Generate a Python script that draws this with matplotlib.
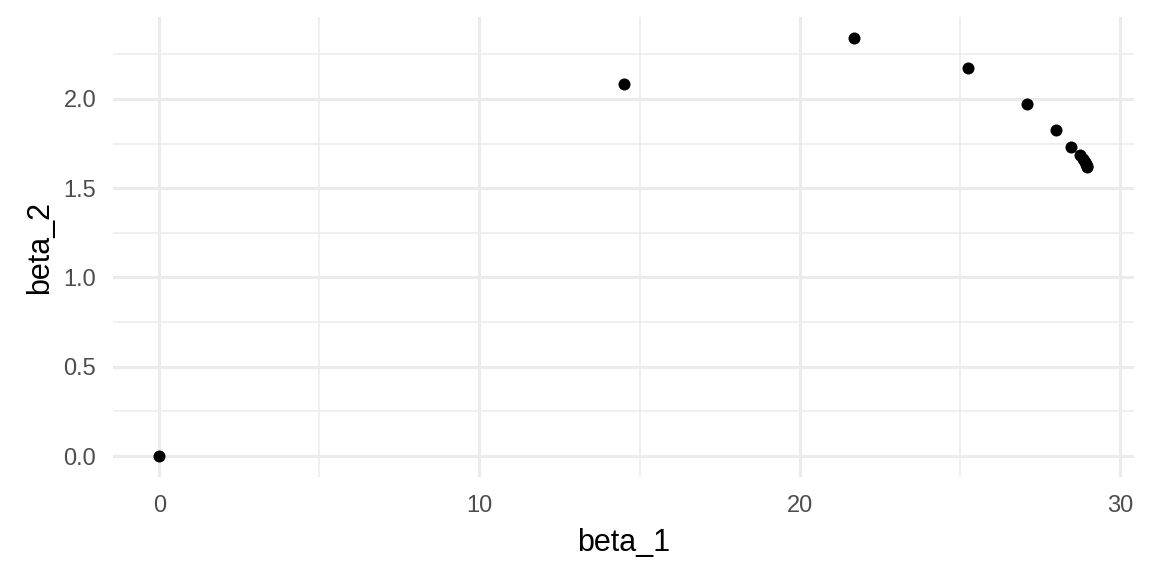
import numpy as np
import matplotlib
matplotlib.use('Agg')
import matplotlib.pyplot as plt

plt.rcParams['font.family'] = ['Liberation Sans', 'DejaVu Sans']

beta_1 = [0.0, 14.50, 21.69, 25.27, 27.11, 28.01, 28.48, 28.75, 28.85, 28.91, 28.94, 28.97, 28.98]
beta_2 = [0.0, 2.083, 2.340, 2.172, 1.971, 1.825, 1.730, 1.685, 1.663, 1.646, 1.635, 1.624, 1.618]

fig = plt.figure(figsize=(11.52, 5.76), dpi=100)
ax = fig.add_axes([0.098, 0.172, 0.886, 0.798])

ax.scatter(beta_1, beta_2, s=75, color='black', zorder=3, linewidths=0)

ax.set_xlim(-1.45, 30.43)
ax.set_ylim(-0.117, 2.457)
ax.set_xticks([0, 10, 20, 30])
ax.set_yticks([0.0, 0.5, 1.0, 1.5, 2.0])
ax.set_yticklabels(['0.0', '0.5', '1.0', '1.5', '2.0'])
ax.set_xticks([5, 15, 25], minor=True)
ax.set_yticks([0.25, 0.75, 1.25, 1.75, 2.25], minor=True)

ax.grid(True, which='major', color='#EBEBEB', lw=2.2)
ax.grid(True, which='minor', color='#EBEBEB', lw=1.1)
ax.set_axisbelow(True)
for sp in ax.spines.values():
    sp.set_visible(False)
ax.tick_params(which='both', length=0)
ax.tick_params(labelsize=17, labelcolor='#4D4D4D')
ax.tick_params(axis='x', pad=13)
ax.tick_params(axis='y', pad=12)

ax.set_xlabel('beta_1', fontsize=22, labelpad=8)
ax.set_ylabel('beta_2', fontsize=22, labelpad=6)

plt.savefig('out.png', dpi=100)
